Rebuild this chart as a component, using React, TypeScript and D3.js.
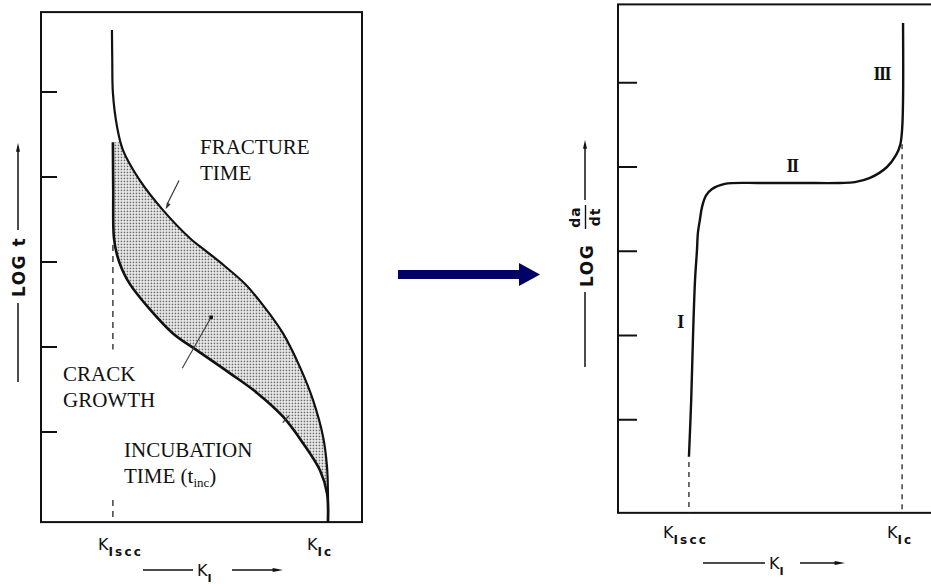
import * as d3 from 'd3';

// curves, in panel units (K: 0..100 across the box, LOG: tick units 0..5)
const fractureK = [22.1, 22.2, 22.4, 23.7, 25.5, 30.8, 38.0, 46.4, 51.7, 57.3, 63.6, 69.2, 75.4, 80.7, 84.7, 87.9, 89.1, 89.4, 89.4];
const fractureLog = [5.73, 5.38, 4.99, 4.59, 4.32, 3.96, 3.61, 3.28, 3.12, 2.95, 2.74, 2.49, 2.16, 1.76, 1.38, 0.94, 0.59, 0.26, -0.06];

const incubK = [22.4, 22.5, 22.7, 23.7, 25.3, 27.7, 34.0, 41.1, 48.6, 58.9, 67.3, 75.4, 81.6, 86.9, 89.1, 89.4];
const incubLog = [4.41, 3.85, 3.29, 3.08, 2.91, 2.74, 2.44, 2.16, 1.96, 1.69, 1.46, 1.18, 0.87, 0.55, 0.28, -0.06];

const crackK = [22.1, 22.8, 23.4, 24.0, 24.6, 24.9, 25.5, 26.2, 27.4, 29.3, 33.3, 44.2, 56.7, 69.2, 73.8, 78.5, 83.8, 86.6, 87.9, 88.5, 88.8, 88.8];
const crackLog = [0.56, 1.23, 2.03, 2.66, 3.01, 3.22, 3.37, 3.53, 3.66, 3.74, 3.80, 3.81, 3.81, 3.81, 3.82, 3.87, 4.00, 4.14, 4.26, 4.44, 4.80, 5.71];

const tickValues = [1, 2, 3, 4, 5];

const KIsccLeft = 22.4;
const KIcLeft = 89.4;
const KIsccRight = 22.1;
const KIcRight = 88.5;

const stages = ['I', 'II', 'III'];
const stageK = [19.3, 54.2, 82.2];
const stageLog = [2.09, 3.94, 5.03];

const SERIF = "'Liberation Serif', 'Times New Roman', serif";
const SANS = "'DejaVu Sans', 'Liberation Sans', sans-serif";
const NAVY = '#000066';

type Pt = [number, number];
const zip = (a: number[], b: number[]): Pt[] => a.map((v, i) => [v, b[i]]);

export default function App() {
  const xL = d3.scaleLinear().domain([0, 100]).range([41, 362]);
  const yL = d3.scaleLinear().domain([0, 5]).range([517, 92]);
  const xR = d3.scaleLinear().domain([0, 100]).range([618, 939]);
  const yR = d3.scaleLinear().domain([0, 5]).range([504, 82.75]);

  const lineL = d3.line<Pt>().x((d) => xL(d[0])).y((d) => yL(d[1])).curve(d3.curveCatmullRom.alpha(0.5));
  const lineR = d3.line<Pt>().x((d) => xR(d[0])).y((d) => yR(d[1])).curve(d3.curveCatmullRom.alpha(0.5));

  const fracture = zip(fractureK, fractureLog);
  const incub = zip(incubK, incubLog);
  const crack = zip(crackK, crackLog);

  // shaded band between incubation and fracture curves
  const upperPart: Pt[] = [[24.9, 4.41], ...fracture.filter((d) => d[1] < 4.41)];
  const bandPath =
    (lineL(incub) || '') + 'L' + (lineL(upperPart.slice().reverse()) || '').slice(1) + 'Z';

  const leftTop = yL(5.94);
  const leftBottom = yL(-0.06);
  const rightTop = yR(5.93);
  const rightBottom = yR(-0.105);

  const arrowHead = (x: number, y: number, dir: 'up' | 'right', s = 4) =>
    dir === 'up'
      ? `M${x},${y}L${x - s / 2},${y + s * 2.2}L${x + s / 2},${y + s * 2.2}Z`
      : `M${x},${y}L${x - s * 2.6},${y - s / 2}L${x - s * 2.6},${y + s / 2}Z`;

  return (
    <svg width={931} height={584} style={{ position: 'absolute', left: 0, top: 0, background: '#fff' }}>
      <defs>
        <pattern id="dots" width={3} height={3} patternUnits="userSpaceOnUse">
          <rect width={3} height={3} fill="#f6f6f6" />
          <rect x={0.6} y={0.6} width={1.7} height={1.7} fill="#6e6e6e" />
        </pattern>
      </defs>

      {/* ---------- left panel ---------- */}
      <rect x={xL(0)} y={leftTop} width={xL(100) - xL(0)} height={leftBottom - leftTop} fill="none" stroke="#111" strokeWidth={2} />
      {tickValues.map((t) => (
        <line key={t} x1={xL(0)} x2={xL(0) + 16} y1={yL(t)} y2={yL(t)} stroke="#111" strokeWidth={2} />
      ))}
      <path d={bandPath} fill="url(#dots)" stroke="none" />
      <line x1={xL(KIsccLeft)} x2={xL(KIsccLeft)} y1={yL(3.2)} y2={yL(1.97)} stroke="#222" strokeWidth={1.3} strokeDasharray="6,5" />
      <line x1={xL(KIsccLeft)} x2={xL(KIsccLeft)} y1={yL(0.2)} y2={leftBottom} stroke="#222" strokeWidth={1.3} strokeDasharray="6,5" />
      <path d={lineL(fracture) || ''} fill="none" stroke="#111" strokeWidth={2.2} />
      <path d={lineL(incub) || ''} fill="none" stroke="#111" strokeWidth={2.6} />

      {/* pointers */}
      <line x1={xL(43)} y1={yL(3.96)} x2={xL(39.3)} y2={yL(3.68)} stroke="#333" strokeWidth={1.2} />
      <path d={`M${xL(38.8)},${yL(3.62)}l1.5,-7l3.5,2.2Z`} fill="#333" />
      <line x1={xL(44)} y1={yL(1.75)} x2={xL(53)} y2={yL(2.35)} stroke="#444" strokeWidth={1.2} />
      <rect x={xL(53) - 1.8} y={yL(2.35) - 1.8} width={3.6} height={3.6} fill="#111" />
      <line x1={xL(75.3)} y1={yL(1.11)} x2={xL(77.2)} y2={yL(1.19)} stroke="#333" strokeWidth={1.3} />

      <text fontFamily={SERIF} fontSize={21} fill="#111">
        <tspan x={200} y={154}>FRACTURE</tspan>
        <tspan x={200} y={180}>TIME</tspan>
      </text>
      <rect x={108} y={362} width={12} height={52} fill="#fff" />
      <text fontFamily={SERIF} fontSize={21} fill="#111">
        <tspan x={63} y={381}>CRACK</tspan>
        <tspan x={63} y={407}>GROWTH</tspan>
      </text>
      <text fontFamily={SERIF} fontSize={21} fill="#111">
        <tspan x={124} y={457}>INCUBATION</tspan>
        <tspan x={124} y={483}>TIME (t</tspan>
        <tspan fontSize={13} dy={4}>inc</tspan>
        <tspan dy={-4}>)</tspan>
      </text>

      {/* left axis labels */}
      <text fontFamily={SANS} fontSize={16} fill="#111" y={550}>
        <tspan x={xL(KIsccLeft) - 15}>K</tspan>
        <tspan dy={6} fontSize={12} fontWeight="bold" letterSpacing={2.2}>Iscc</tspan>
      </text>
      <text fontFamily={SANS} fontSize={16} fill="#111" y={550}>
        <tspan x={xL(KIcLeft) - 21}>K</tspan>
        <tspan dy={6} fontSize={12} fontWeight="bold" letterSpacing={2}>Ic</tspan>
      </text>
      <line x1={143} x2={193} y1={570} y2={570} stroke="#111" strokeWidth={1.6} />
      <text fontFamily={SANS} fontSize={16} fill="#111" y={576}>
        <tspan x={197}>K</tspan>
        <tspan dy={6} fontSize={11} fontWeight="bold">I</tspan>
      </text>
      <line x1={232} x2={274} y1={570} y2={570} stroke="#111" strokeWidth={1.6} />
      <path d={arrowHead(283, 570, 'right', 4)} fill="#111" />

      <line x1={18} x2={18} y1={382} y2={303} stroke="#111" strokeWidth={1.5} />
      <line x1={18} x2={18} y1={230} y2={151} stroke="#111" strokeWidth={1.5} />
      <path d={arrowHead(18, 143, 'up', 4)} fill="#111" />
      <g transform="translate(18,267) rotate(-90)">
        <text fontFamily={SANS} fontSize={17} fontWeight="bold" letterSpacing={1.5} textAnchor="middle" y={7} fill="#111">
          LOG t
        </text>
      </g>

      {/* ---------- middle arrow ---------- */}
      <rect x={398} y={270} width={122} height={9} fill={NAVY} />
      <path d="M519,263L540,274.5L519,286Z" fill={NAVY} />

      {/* ---------- right panel ---------- */}
      <rect x={xR(0)} y={rightTop} width={xR(100) - xR(0)} height={rightBottom - rightTop} fill="none" stroke="#111" strokeWidth={2} />
      {tickValues.map((t) => (
        <line key={t} x1={xR(0)} x2={xR(0) + 19} y1={yR(t)} y2={yR(t)} stroke="#111" strokeWidth={2} />
      ))}
      <line x1={xR(KIsccRight)} x2={xR(KIsccRight)} y1={yR(0.5)} y2={rightBottom} stroke="#222" strokeWidth={1.3} strokeDasharray="5,5" />
      <line x1={xR(KIcRight)} x2={xR(KIcRight)} y1={yR(4.27)} y2={rightBottom} stroke="#222" strokeWidth={1.3} strokeDasharray="5,5" />
      <path d={lineR(crack) || ''} fill="none" stroke="#111" strokeWidth={2.4} />

      {stages.map((s, i) => (
        <text key={s} x={xR(stageK[i])} y={yR(stageLog[i])} textAnchor="middle" fontFamily={SERIF} fontSize={18} fontWeight="bold" letterSpacing={-1.5} fill="#111">
          {s}
        </text>
      ))}

      <text fontFamily={SANS} fontSize={16} fill="#111" y={538}>
        <tspan x={xR(KIsccRight) - 26}>K</tspan>
        <tspan dy={6} fontSize={12} fontWeight="bold" letterSpacing={2.2}>Iscc</tspan>
      </text>
      <text fontFamily={SANS} fontSize={16} fill="#111" y={538}>
        <tspan x={xR(KIcRight) - 15}>K</tspan>
        <tspan dy={6} fontSize={12} fontWeight="bold" letterSpacing={2}>Ic</tspan>
      </text>
      <line x1={703} x2={765} y1={563} y2={563} stroke="#111" strokeWidth={1.6} />
      <text fontFamily={SANS} fontSize={16} fill="#111" y={569}>
        <tspan x={769}>K</tspan>
        <tspan dy={6} fontSize={11} fontWeight="bold">I</tspan>
      </text>
      <line x1={800} x2={836} y1={563} y2={563} stroke="#111" strokeWidth={1.6} />
      <path d={arrowHead(845, 563, 'right', 4)} fill="#111" />

      <line x1={585} x2={585} y1={367} y2={292} stroke="#111" strokeWidth={1.5} />
      <line x1={585} x2={585} y1={200} y2={148} stroke="#111" strokeWidth={1.5} />
      <path d={arrowHead(585, 140, 'up', 4)} fill="#111" />
      <g transform="translate(585,247) rotate(-90)">
        <text fontFamily={SANS} fontSize={17} fontWeight="bold" letterSpacing={1.5} x={-40} y={8} fill="#111">
          LOG
        </text>
        <text fontFamily={SANS} fontSize={14} fontWeight="bold" letterSpacing={1} textAnchor="middle" x={30} y={-5} fill="#111">
          da
        </text>
        <line x1={18} x2={42} y1={0.5} y2={0.5} stroke="#111" strokeWidth={1.4} />
        <text fontFamily={SANS} fontSize={14} fontWeight="bold" letterSpacing={1} textAnchor="middle" x={30} y={15} fill="#111">
          dt
        </text>
      </g>
    </svg>
  );
}
